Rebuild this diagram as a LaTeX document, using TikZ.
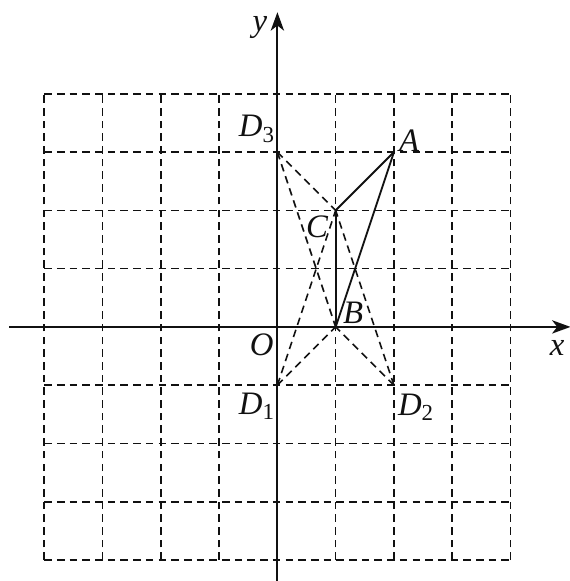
\documentclass[tikz,border=0pt]{standalone}
\usepackage{fontspec}
\setmainfont{Liberation Serif}
\usepackage{xcolor}
\usepackage{tikz}
\usetikzlibrary{arrows.meta,positioning,calc}
\definecolor{ink}{HTML}{111111}
\tikzset{
  gridline/.style={draw=ink, line width=0.8pt, dash pattern=on 3.7pt off 2.5pt},
  axis/.style={draw=ink, line width=0.9pt, -{Stealth[length=9pt, width=6.5pt, inset=2.5pt]}},
  side/.style={draw=ink, line width=0.9pt},
  aux/.style={draw=ink, line width=0.8pt, dash pattern=on 3.7pt off 2.5pt},
  lbl/.style={inner sep=0pt, font=\fontsize{16}{18}\selectfont\itshape, text=ink}
}

\begin{document}
\begin{tikzpicture}
  \useasboundingbox (-4.76,-4.36) rectangle (5.02,5.61);

  % dashed square grid
  \draw[gridline] (-4,-4) grid (4,4);

  % axes
  \coordinate (xstart) at (-4.6,0);
  \coordinate (xend) at (5.03,0);
  \coordinate (ystart) at (0,-4.4);
  \coordinate (yend) at (0,5.4);
  \draw[axis] (xstart) -- (xend);
  \draw[axis] (ystart) -- (yend);

  % points
  \coordinate (A) at (2,3);
  \coordinate (B) at (1,0);
  \coordinate (C) at (1,2);
  \coordinate (D1) at (0,-1);
  \coordinate (D2) at (2,-1);
  \coordinate (D3) at (0,3);

  \draw[side] (A) -- (C);
  \draw[side] (A) -- (B);
  \draw[side] (C) -- (B);

  \draw[aux] (D3) -- (C);
  \draw[aux] (D3) -- (B);
  \draw[aux] (D1) -- (C);
  \draw[aux] (D1) -- (B);
  \draw[aux] (D2) -- (C);
  \draw[aux] (D2) -- (B);

  % labels
  \node[lbl] (laby) at (-0.3,5.13) {y};
  \node[lbl] (labx) at (4.8,-0.36) {x};
  \node[lbl] (labO) at (-0.27,-0.3) {O};
  \node[lbl] (labA) at (2.26,3.2) {A};
  \node[lbl] (labB) at (1.3,0.24) {B};
  \node[lbl] (labC) at (0.68,1.72) {C};
  \node[lbl] (labD1) at (-0.35,-1.36) {D\textsubscript{\upshape 1}};
  \node[lbl] (labD2) at (2.38,-1.38) {D\textsubscript{\upshape 2}};
  \node[lbl] (labD3) at (-0.35,3.4) {D\textsubscript{\upshape 3}};
\end{tikzpicture}
\end{document}
